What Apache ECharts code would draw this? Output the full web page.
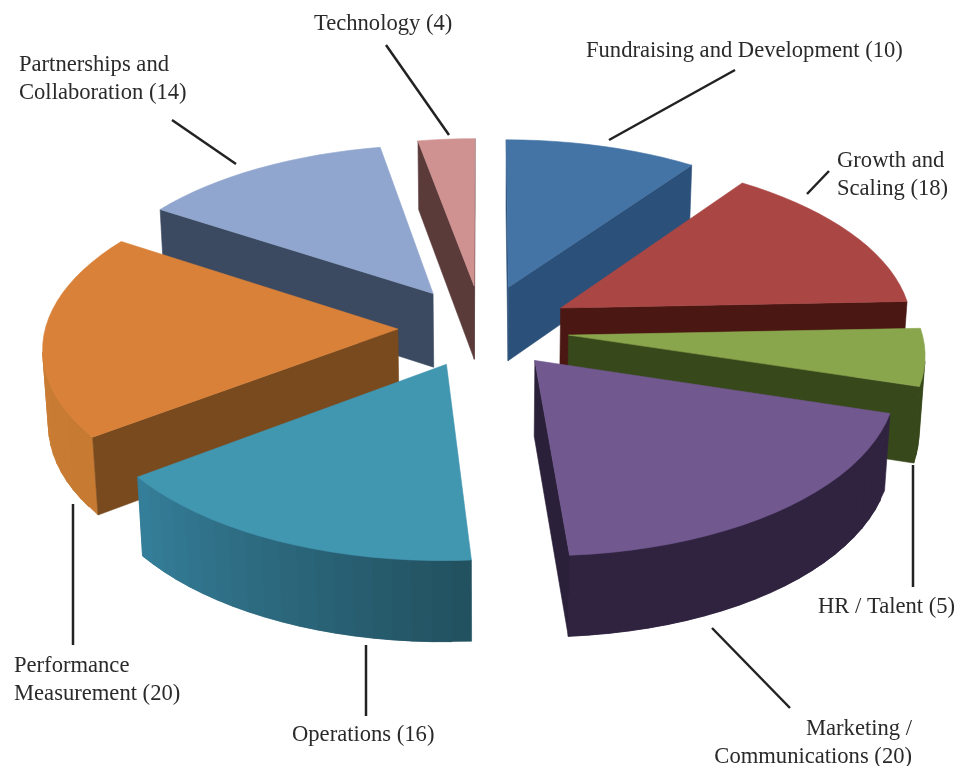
<!DOCTYPE html>
<html>
<head>
<meta charset="utf-8">
<title>Pie</title>
<script src="https://cdn.jsdelivr.net/npm/echarts@6/dist/echarts.min.js"></script>
<style>
  html, body { margin: 0; padding: 0; background: #fff; }
  #chart { width: 968px; height: 766px; }
</style>
</head>
<body>
<div id="chart"></div>
<script>
// data
const categories = ['Fundraising and Development', 'Growth and\nScaling', 'HR / Talent', 'Marketing /\nCommunications', 'Operations', 'Performance\nMeasurement', 'Partnerships and\nCollaboration', 'Technology']
const values = [10, 18, 5, 20, 16, 20, 14, 4]

// slice colours
const topColors = ['#4473a6', '#aa4644', '#89a64d', '#71588f', '#4196b0', '#d98139', '#90a6cf', '#cf9290']
const radialColors = ['#2b5079', '#4a1712', '#37481b', '#2b2039', '#2a6a80', '#784a1e', '#3b4a60', '#5b3b3a']
const rimStartColors = ['#2b5079', '#4a1712', '#37481b', '#2f2340', '#21505f', '#c67a32', '#3b4a60', '#5b3b3a']
const rimEndColors = ['#2b5079', '#4a1712', '#37481b', '#2f2340', '#367f9a', '#cf8036', '#3b4a60', '#5b3b3a']

// label placement [x, y of first line, align]
const labelPlaces = [
  [586, 51, 'left'], [837, 161, 'left'], [818, 607, 'left'], [912, 729, 'right'],
  [292, 735, 'left'], [14, 666, 'left'], [19, 65, 'left'], [314, 24, 'left']
]
// leader lines [x1, y1, x2, y2]
const leaders = [
  [735, 70, 609, 140], [829, 171, 807, 194], [913, 465, 913, 587], [712, 628, 790, 708],
  [366, 645, 366, 716], [73, 504, 73, 645], [172, 120, 236, 164], [386, 45, 449, 135]
]

// camera
const cx = 484
const cy = 326
const focal = 352
const tilt = 28.7 * Math.PI / 180
const perspective = 0.098
const explode = 0.245
const thickness = 0.245
const arcStep = 3
// small view distortion of each slice boundary, degrees
const boundaryWarp = [0, 1.8, -6.5, -4, -2.5, 1, 3.5, 3, 0]

const total = values.reduce((a, b) => a + b, 0)
const rad = d => d * Math.PI / 180

function project(u, v, z) {
  const y = v * Math.sin(tilt) + z * Math.cos(tilt)
  const d = 1 + perspective * (v * Math.cos(tilt) - z * Math.sin(tilt)) / Math.cos(tilt)
  return [cx + focal * u / d, cy - focal * y / d]
}

function area(pts) {
  let s = 0
  pts.forEach((p, i) => {
    const q = pts[(i + 1) % pts.length]
    s += p[0] * q[1] - q[0] * p[1]
  })
  return s / 2
}

function mix(a, b, t) {
  const ca = echarts.color.parse(a)
  const cb = echarts.color.parse(b)
  return 'rgb(' + [0, 1, 2].map(i => Math.round(ca[i] + (cb[i] - ca[i]) * t)).join(',') + ')'
}

// start angles, clockwise from the top
const starts = []
values.reduce((acc, v) => {
  starts.push(acc)
  return acc + v / total * 360
}, 0)

// paint back slices first
const depthRank = values
  .map((v, i) => ({ i, c: Math.cos(rad(starts[i] + v / total * 180)) }))
  .sort((a, b) => b.c - a.c)
  .reduce((acc, o, r) => { acc[o.i] = r; return acc }, {})

function poly(points, color, z2) {
  return {
    type: 'polygon',
    z2: z2,
    shape: { points: points },
    style: { fill: color, stroke: color, lineWidth: 0.6 }
  }
}

function wallQuad(p, q) {
  return [
    project(p[0], p[1], 0),
    project(q[0], q[1], 0),
    project(q[0], q[1], -thickness),
    project(p[0], p[1], -thickness)
  ]
}

function renderSlice(params, api) {
  const i = params.dataIndex
  const sweep = api.value(0) / total * 360
  const a0 = starts[i] + boundaryWarp[i]
  const a1 = starts[i] + sweep + boundaryWarp[i + 1]
  const mid = rad(starts[i] + sweep / 2)
  const ou = explode * Math.sin(mid)
  const ov = explode * Math.cos(mid)
  const base = depthRank[i] * 2

  const rim = []
  const n = Math.ceil((a1 - a0) / arcStep)
  for (let k = 0; k <= n; k++) {
    const a = rad(a0 + (a1 - a0) * k / n)
    rim.push([ou + Math.sin(a), ov + Math.cos(a)])
  }

  const children = []
  // outer wall, one strip per arc step; each strip laps over the next one
  for (let k = 0; k < n; k++) {
    if (area(wallQuad(rim[k], rim[k + 1])) < 0) {
      const far = rim[Math.min(k + 2, n)]
      const end = area(wallQuad(rim[k], far)) < 0 ? far : rim[k + 1]
      children.push(poly(wallQuad(rim[k], end), mix(rimStartColors[i], rimEndColors[i], (k + 0.5) / n), base))
    }
  }
  // the two cut faces
  ;[[[ou, ov], rim[0]], [rim[n], [ou, ov]]].forEach(c => {
    const q = wallQuad(c[0], c[1])
    if (area(q) < 0) {
      children.push(poly(q, radialColors[i], base))
    }
  })
  // top
  const topPts = [project(ou, ov, 0)].concat(rim.map(p => project(p[0], p[1], 0)))
  children.push(poly(topPts, topColors[i], base + 1))

  return { type: 'group', children: children }
}

const chart = echarts.init(document.getElementById('chart'))

const labelEls = categories.map((name, i) => ({
  type: 'text',
  x: labelPlaces[i][0],
  y: labelPlaces[i][1] - 14,
  style: {
    text: name + ' (' + values[i] + ')',
    font: '22.6px "Liberation Serif"',
    lineHeight: 28,
    fill: '#2a2a2a',
    align: labelPlaces[i][2],
    verticalAlign: 'top'
  }
}))
const leaderEls = leaders.map(l => ({
  type: 'line',
  shape: { x1: l[0], y1: l[1], x2: l[2], y2: l[3] },
  style: { stroke: '#222', lineWidth: 2.5 }
}))

chart.setOption({
  backgroundColor: '#fff',
  animation: false,
  graphic: { elements: labelEls.concat(leaderEls) },
  series: [
    {
      type: 'custom',
      coordinateSystem: 'none',
      silent: true,
      renderItem: renderSlice,
      data: values.map(v => [v])
    }
  ]
})
</script>
</body>
</html>
